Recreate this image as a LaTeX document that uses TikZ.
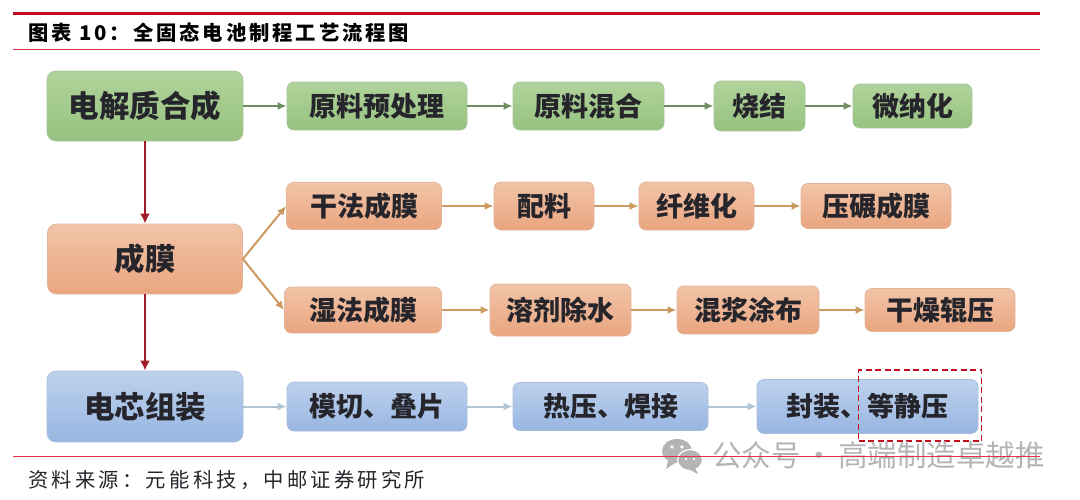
\documentclass[tikz,border=0pt]{standalone}
\usepackage{fontspec}
\usepackage{xcolor}
\usetikzlibrary{arrows.meta}
\setmainfont{Noto Sans CJK SC}
\newfontfamily\titlecjk[LetterSpace=14.5]{Noto Sans CJK SC}
\newfontfamily\sourcecjk[LetterSpace=16]{Noto Sans CJK SC}
\definecolor{topred}{HTML}{C30D1F}
\definecolor{thinred}{HTML}{E2333F}
\definecolor{textdark}{HTML}{25252B}
\definecolor{markgrey}{HTML}{B4B4B4}
\definecolor{greenline}{HTML}{A9C79A}
\definecolor{greentop}{HTML}{B0D39B}
\definecolor{greenbot}{HTML}{97C280}
\definecolor{orangeline}{HTML}{E2B498}
\definecolor{orangetop}{HTML}{F2C4A8}
\definecolor{orangebot}{HTML}{E9A57F}
\definecolor{blueline}{HTML}{A9BEDC}
\definecolor{bluetop}{HTML}{BDD1EC}
\definecolor{bluebot}{HTML}{98B6E2}
\definecolor{greenarr}{HTML}{6F8C60}
\definecolor{orangearr}{HTML}{CC9A60}
\definecolor{bluearr}{HTML}{B0C5D6}
\definecolor{mainarr}{HTML}{A01C2A}
\tikzset{
    procbox/.style={rectangle, rounded corners=7pt, inner sep=0pt, line width=0.8pt,
        text=textdark, font=\bfseries\fontsize{27}{31}\selectfont},
    greenbox/.style={procbox, draw=greenline, top color=greentop, bottom color=greenbot},
    orangebox/.style={procbox, draw=orangeline, top color=orangetop, bottom color=orangebot},
    bluebox/.style={procbox, draw=blueline, top color=bluetop, bottom color=bluebot},
    bigfont/.style={rounded corners=9pt, font=\bfseries\fontsize{30.5}{34}\selectfont},
    steparrow/.style={-{Latex[length=9pt, width=8pt]}, line width=2pt},
    greenarrow/.style={steparrow, draw=greenarr},
    orangearrow/.style={steparrow, draw=orangearr},
    bluearrow/.style={steparrow, draw=bluearr},
    mainarrow/.style={-{Latex[length=10pt, width=10pt]}, line width=2.2pt, draw=mainarr},
}

\begin{document}
\begin{tikzpicture}[x=1pt, y=-1pt]
    \useasboundingbox (0,0) rectangle (1080,499);

    % Tiêu đề
    \node[anchor=west, inner sep=0pt, text=black, font=\titlecjk\bfseries\fontsize{20.3}{24}\selectfont] (title) at (28,33) {图表 10：全固态电池制程工艺流程图};
    \node[anchor=west, inner sep=0pt, text=textdark, font=\sourcecjk\fontsize{20.3}{24}\selectfont] (source) at (28,480) {资料来源：元能科技，中邮证券研究所};

    % Cột bên trái
    \node[greenbox, bigfont, minimum width=196pt, minimum height=70pt] (synth) at (145,106) {电解质合成};
    \node[orangebox, bigfont, minimum width=195pt, minimum height=70pt] (film) at (145,259) {成膜};
    \node[bluebox, bigfont, minimum width=196pt, minimum height=71pt] (cell) at (145,406.5) {电芯组装};

    % Các hộp theo hàng
    \foreach \name/\cx/\cy/\w/\h/\txt in {g1/377/106/180/48/原料预处理, g2/588.5/106/151/48/原料混合, g3/759.5/106/91/50/烧结, g4/912.5/106/119/44/微纳化} {
        \node[greenbox, minimum width=\w pt, minimum height=\h pt] (\name) at (\cx,\cy) {\txt};
    }
    \foreach \name/\cx/\cy/\w/\h/\txt in {d1/364/206/155/47/干法成膜, d2/544/206/100/48/配料, d3/696.5/206/115/48/纤维化, d4/876/206/150/45/压碾成膜, w1/363/310/157/46/湿法成膜, w2/560.5/310/141/52/溶剂除水, w3/748/310/142/48/混浆涂布, w4/940/310/150/43/干燥辊压} {
        \node[orangebox, minimum width=\w pt, minimum height=\h pt] (\name) at (\cx,\cy) {\txt};
    }
    \foreach \name/\cx/\cy/\w/\h/\txt in {b1/377/406.5/180/49/{模切、叠片}, b2/610.5/406.5/195/48/{热压、焊接}, b3/867.5/406.5/221/54/{封装、等静压}} {
        \node[bluebox, minimum width=\w pt, minimum height=\h pt] (\name) at (\cx,\cy) {\txt};
    }

    % Mũi tên
    \foreach \a/\b in {synth/g1, g1/g2, g2/g3, g3/g4} {
        \draw[greenarrow] (\a) -- (\b);
    }
    \foreach \a/\b in {d1/d2, d2/d3, d3/d4, w1/w2, w2/w3, w3/w4, film.east/d1.west, film.east/w1.west} {
        \draw[orangearrow] (\a) -- (\b);
    }
    \foreach \a/\b in {cell/b1, b1/b2, b2/b3} {
        \draw[bluearrow] (\a) -- (\b);
    }
    \draw[mainarrow] (synth) -- (film);
    \draw[mainarrow] (film) -- (cell);

    % Khung nét đứt
    \node[draw=topred, line width=1.3pt, dash pattern=on 6pt off 3.5pt, minimum width=123pt, minimum height=71pt, inner sep=0pt] (mark) at (920,405.5) {};

    % Logo và chữ mờ
    \fill[markgrey] (677,451) ellipse (15 and 12);
    \fill[markgrey] (668,461) -- (666,469) -- (675,463) -- cycle;
    \fill[markgrey, draw=white, line width=1.2pt] (690,460) ellipse (12.5 and 10.5);
    \fill[markgrey] (695,468) -- (698,474) -- (690,470) -- cycle;
    \fill[white] (672,447) circle (1.8) (682,447) circle (1.8) (686,459) circle (1.4) (694,459) circle (1.4);
    \node[anchor=west, inner sep=0pt, text=markgrey, font=\fontsize{29.5}{33}\selectfont] (mark text) at (712,455) {公众号\hspace{4pt}·\hspace{4pt}高端制造卓越推};

    % Đường kẻ đỏ
    \draw[topred, line width=3.5pt] (13,13.5) -- (1040,13.5);
    \draw[thinred, line width=1pt] (13,49.5) -- (1040,49.5);
    \draw[thinred, line width=1pt] (13,456.5) -- (1040,456.5);
\end{tikzpicture}
\end{document}
